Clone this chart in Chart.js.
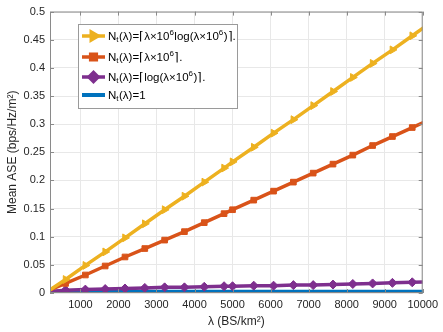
<!DOCTYPE html>
<html>
<head>
<meta charset="utf-8">
<script src="https://cdn.jsdelivr.net/npm/chart.js"></script>
<style>
  html, body { margin: 0; padding: 0; background: #fff; }
  #wrap { width: 443px; height: 332px; }
</style>
</head>
<body>
<div id="wrap"><canvas id="myChart" width="443" height="332"></canvas></div>
<script>
// lambda values (BS/km^2) where the curves were sampled
let lambdas = [100, 609, 1130, 1651, 2172, 2693, 3214, 3735, 4256, 4777, 5000,
               5557, 6078, 6599, 7120, 7641, 8162, 8683, 9204, 9725, 10246];

// mean ASE (bps/Hz/m^2) for each antenna rule
let aseLambdaLog = [0.001, 0.024, 0.049, 0.073, 0.098, 0.123, 0.148, 0.172, 0.197, 0.222, 0.233,
                    0.259, 0.284, 0.308, 0.333, 0.358, 0.383, 0.408, 0.432, 0.457, 0.482];
let aseLambda    = [0.003, 0.017, 0.032, 0.048, 0.064, 0.079, 0.094, 0.109, 0.125, 0.141, 0.148,
                    0.165, 0.181, 0.197, 0.213, 0.229, 0.245, 0.262, 0.278, 0.294, 0.310];
let aseLog       = [0.002, 0.005, 0.006, 0.007, 0.008, 0.009, 0.010, 0.010, 0.011, 0.012, 0.012,
                    0.013, 0.013, 0.014, 0.014, 0.015, 0.016, 0.017, 0.018, 0.019, 0.020];
let aseOne       = [0.002, 0.002, 0.002, 0.002, 0.002, 0.002, 0.002, 0.002, 0.002, 0.002, 0.002,
                    0.002, 0.002, 0.002, 0.002, 0.002, 0.002, 0.002, 0.002, 0.002, 0.002];

// legend texts (TeX-ish: _x is subscript, ^x is superscript)
let seriesLabels = [
  'N_t(\u03BB)=\u2308\u03BB\u00D710^6log(\u03BB\u00D710^6)\u2309.',
  'N_t(\u03BB)=\u2308\u03BB\u00D710^6\u2309.',
  'N_t(\u03BB)=\u2308log(\u03BB\u00D710^6)\u2309.',
  'N_t(\u03BB)=1'
];

// tick labels
let xTicks = [1000, 2000, 3000, 4000, 5000, 6000, 7000, 8000, 9000, 10000];
let yTicks = [0, 0.05, 0.1, 0.15, 0.2, 0.25, 0.3, 0.35, 0.4, 0.45, 0.5];

// turn two lists into {x, y} points
function pts(ys) {
  let out = [];
  for (let i = 0; i < lambdas.length; i++) {
    out.push({ x: lambdas[i], y: ys[i] });
  }
  return out;
}

let tickColor = '#262626';
let family = '"Liberation Sans", Arial, sans-serif';
let font = { family: family, size: 11 };

// draw a label with _ and ^ as small lowered / raised characters
function richText(ctx, str, x, y) {
  let i = 0;
  while (i < str.length) {
    let c = str[i];
    if ((c === '_' || c === '^') && i + 1 < str.length) {
      let s = str[i + 1];
      ctx.font = '8px ' + family;
      ctx.fillText(s, x, y + (c === '_' ? 3 : -4));
      x += ctx.measureText(s).width + 0.5;
      i += 2;
    } else {
      ctx.font = '11.5px ' + family;
      ctx.fillText(c, x, y);
      x += ctx.measureText(c).width;
      i += 1;
    }
  }
}

// MATLAB look: box round the axes, inward ticks, legend with line + marker
const matlabBox = {
  id: 'matlabBox',
  afterDraw(chart) {
    let ctx = chart.ctx;
    let a = chart.chartArea;
    let xs = chart.scales.x;
    let ys = chart.scales.y;
    ctx.save();
    ctx.strokeStyle = '#8a8a8a';
    ctx.lineWidth = 1;
    ctx.strokeRect(a.left + 0.5, a.top + 0.5, a.right - a.left - 1, a.bottom - a.top - 1);
    ctx.beginPath();
    xTicks.forEach(v => {
      let px = Math.round(xs.getPixelForValue(v)) + 0.5;
      ctx.moveTo(px, a.bottom); ctx.lineTo(px, a.bottom - 4);
      ctx.moveTo(px, a.top); ctx.lineTo(px, a.top + 4);
    });
    yTicks.forEach(v => {
      let py = Math.round(ys.getPixelForValue(v)) + 0.5;
      ctx.moveTo(a.left, py); ctx.lineTo(a.left + 4, py);
      ctx.moveTo(a.right, py); ctx.lineTo(a.right - 4, py);
    });
    ctx.stroke();

    // legend
    let lx = 78, ly = 24, lw = 159, lh = 84;
    ctx.fillStyle = '#fff';
    ctx.fillRect(lx, ly, lw, lh);
    ctx.strokeStyle = '#9a9a9a';
    ctx.strokeRect(lx + 0.5, ly + 0.5, lw, lh);
    let rows = [36, 57, 77, 95];
    chart.data.datasets.forEach((ds, i) => {
      let y = rows[i];
      ctx.strokeStyle = ds.borderColor;
      ctx.fillStyle = ds.backgroundColor;
      ctx.lineWidth = ds.borderWidth;
      ctx.beginPath();
      ctx.moveTo(82, y); ctx.lineTo(105, y);
      ctx.stroke();
      if (ds.pointRadius > 0) {
        Chart.helpers.drawPoint(ctx, {
          pointStyle: ds.pointStyle, rotation: ds.pointRotation || 0,
          radius: ds.pointRadius, borderWidth: 1
        }, 93.5, y);
      }
      ctx.fillStyle = '#000';
      ctx.textBaseline = 'middle';
      richText(ctx, seriesLabels[i], 108, y + 1);
    });
    ctx.restore();
  }
};

let options = {
  type: 'line',
  data: {
    datasets: [{
      label: seriesLabels[0],
      data: pts(aseLambdaLog),
      borderColor: '#EDB120',
      backgroundColor: '#EDB120',
      borderWidth: 3.5,
      pointStyle: 'triangle',
      pointRotation: 90,
      pointRadius: 4.5,
      pointBorderWidth: 1
    }, {
      label: seriesLabels[1],
      data: pts(aseLambda),
      borderColor: '#D95319',
      backgroundColor: '#D95319',
      borderWidth: 3.5,
      pointStyle: 'rect',
      pointRadius: 4,
      pointBorderWidth: 1
    }, {
      label: seriesLabels[2],
      data: pts(aseLog),
      borderColor: '#7E2F8E',
      backgroundColor: '#7E2F8E',
      borderWidth: 3.5,
      pointStyle: 'rectRot',
      pointRadius: 4.5,
      pointBorderWidth: 1
    }, {
      label: seriesLabels[3],
      data: pts(aseOne),
      borderColor: '#0072BD',
      backgroundColor: '#0072BD',
      borderWidth: 4,
      pointRadius: 0
    }]
  },
  options: {
    responsive: false,
    animation: false,
    devicePixelRatio: 1,
    layout: { padding: { top: 6, right: 18, left: 0, bottom: 0 } },
    plugins: { legend: { display: false }, tooltip: { enabled: false } },
    elements: { line: { tension: 0 } },
    scales: {
      x: {
        type: 'linear',
        min: 200,
        max: 10000,
        afterBuildTicks: axis => { axis.ticks = xTicks.map(v => ({ value: v })); },
        afterFit: axis => { axis.height = 39; },
        ticks: { color: tickColor, font: font, padding: 5, maxRotation: 0,
                 callback: v => String(v) },
        grid: { color: '#e8e8e8', drawTicks: false },
        border: { display: false },
        title: { display: true, text: '\u03BB (BS/km\u00B2)', color: tickColor,
                 font: { family: family, size: 12 }, padding: { top: 0, bottom: 3 } }
      },
      y: {
        type: 'linear',
        min: 0,
        max: 0.5,
        afterBuildTicks: axis => { axis.ticks = yTicks.map(v => ({ value: v })); },
        afterFit: axis => { axis.width = 50; },
        ticks: { color: tickColor, font: font, padding: 5, callback: v => String(v) },
        grid: { color: '#e8e8e8', drawTicks: false },
        border: { display: false },
        title: { display: true, text: 'Mean ASE (bps/Hz/m\u00B2)', color: tickColor,
                 font: { family: family, size: 12 }, padding: { top: 5, bottom: 0 } }
      }
    }
  },
  plugins: [matlabBox]
};

const myChart = new Chart(document.getElementById('myChart'), options);
</script>
</body>
</html>
